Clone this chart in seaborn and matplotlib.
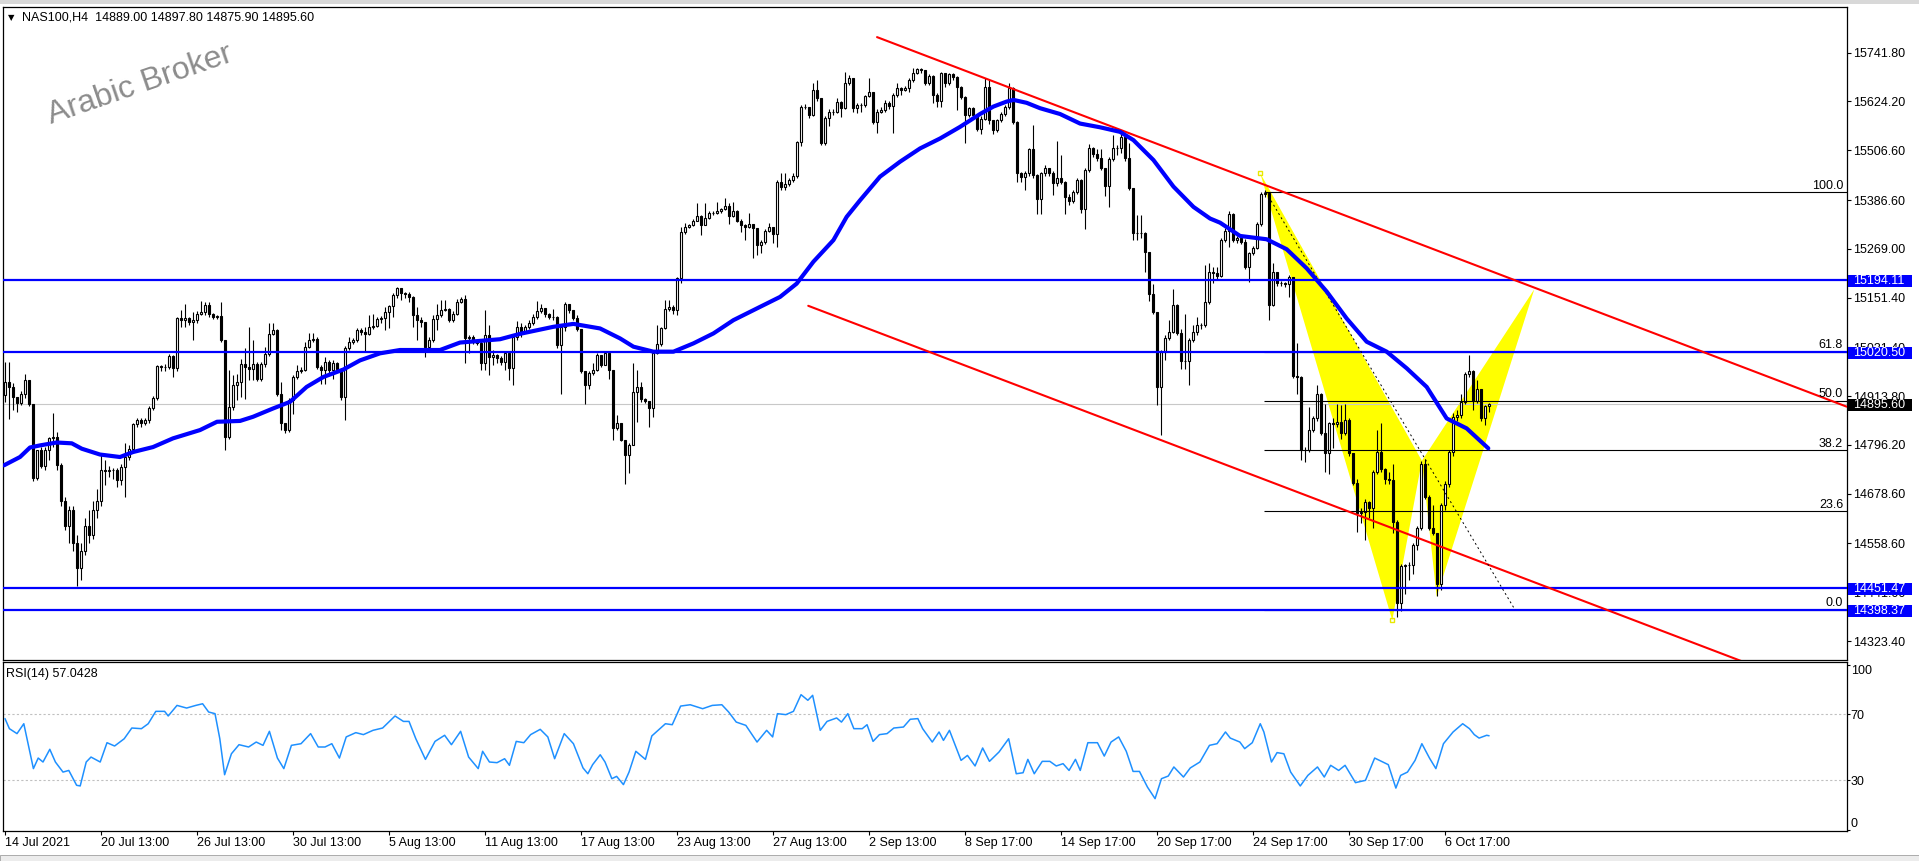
import matplotlib
matplotlib.use("Agg")
import matplotlib.pyplot as plt
from matplotlib.patches import Rectangle
import pandas as pd
import seaborn as sns

W, H = 1919, 861

# ---- NAS100 H4 candles (bar index 0..371), open of each bar = previous close
FIRST_OPEN = 14916.0
closes = [
    14948, 14935, 14912, 14898, 14920, 14952, 14896, 14716, 14783, 14745,
    14783, 14812, 14815, 14747, 14660, 14600, 14640, 14560, 14500, 14540,
    14600, 14580, 14640, 14660, 14735, 14733, 14735, 14735, 14711, 14743,
    14767, 14787, 14846, 14857, 14849, 14856, 14884, 14910, 14986, 14983,
    14985, 15010, 14982, 15101, 15098, 15101, 15093, 15097, 15113, 15117,
    15133, 15113, 15105, 15106, 15050, 14816, 14888, 14940, 14948, 14992,
    14984, 14980, 14992, 14956, 14992, 15015, 15063, 15073, 14920, 14848,
    14833, 14904, 14960, 14975, 14978, 15033, 15049, 15051, 14985, 14976,
    14996, 14978, 14993, 14980, 14912, 15029, 15045, 15050, 15073, 15069,
    15063, 15081, 15082, 15099, 15101, 15117, 15130, 15158, 15174, 15162,
    15160, 15154, 15109, 15097, 15093, 15033, 15049, 15099, 15109, 15121,
    15125, 15097, 15113, 15141, 15147, 15053, 15057, 15045, 15043, 14994,
    15061, 15009, 15013, 15005, 14997, 15017, 14981, 15057, 15081, 15069,
    15081, 15089, 15105, 15119, 15127, 15111, 15105, 15105, 15037, 15081,
    15137, 15121, 15103, 15075, 14975, 14941, 14969, 14978, 15013, 14989,
    15017, 14978, 14838, 14848, 14808, 14772, 14797, 14924, 14936, 14908,
    14903, 14886, 15017, 15039, 15077, 15125, 15129, 15121, 15198, 15310,
    15322, 15326, 15337, 15347, 15326, 15343, 15356, 15355, 15359, 15364,
    15372, 15347, 15359, 15337, 15326, 15321, 15328, 15318, 15278, 15286,
    15312, 15322, 15304, 15431, 15419, 15425, 15435, 15444, 15527, 15612,
    15611, 15591, 15653, 15632, 15525, 15585, 15600, 15598, 15624, 15608,
    15669, 15680, 15608, 15616, 15615, 15637, 15648, 15575, 15600, 15604,
    15620, 15613, 15640, 15656, 15652, 15657, 15676, 15692, 15702, 15700,
    15669, 15686, 15640, 15625, 15692, 15668, 15690, 15683, 15660, 15636,
    15591, 15608, 15591, 15557, 15583, 15660, 15579, 15555, 15579, 15595,
    15612, 15656, 15575, 15452, 15441, 15452, 15509, 15447, 15390, 15452,
    15463, 15452, 15428, 15439, 15431, 15395, 15385, 15407, 15435, 15364,
    15460, 15511, 15497, 15487, 15463, 15420, 15485, 15511, 15511, 15539,
    15487, 15415, 15306, 15307, 15308, 15262, 15161, 15117, 14936, 15021,
    15055, 15069, 15133, 15065, 14999, 14999, 15050, 15069, 15085, 15085,
    15141, 15214, 15211, 15203, 15290, 15313, 15354, 15290, 15294, 15286,
    15226, 15258, 15272, 15329, 15400, 15403, 15133, 15214, 15186, 15186,
    15184, 15202, 14962, 14960, 14784, 14784, 14833, 14860, 14920, 14826,
    14777, 14848, 14846, 14852, 14824, 14857, 14776, 14705, 14631, 14635,
    14659, 14643, 14731, 14780, 14737, 14715, 14711, 14611, 14414, 14504,
    14506, 14506, 14554, 14595, 14751, 14671, 14595, 14583, 14462, 14651,
    14703, 14780, 14864, 14868, 14900, 14967, 14975, 14903, 14930, 14860,
    14889, 14895.6,
]
highs = [
    14996, 14996, 14946, 14908, 14925, 14966, 14952, 14896, 14785, 14790,
    14790, 14816, 14873, 14828, 14752, 14670, 14650, 14650, 14580, 14560,
    14620, 14640, 14660, 14690, 14775, 14760, 14745, 14740, 14740, 14750,
    14800, 14795, 14850, 14862, 14862, 14862, 14890, 14915, 14990, 14990,
    14992, 15015, 15012, 15105, 15121, 15135, 15105, 15117, 15118, 15143,
    15140, 15140, 15115, 15110, 15141, 15050, 14976, 14965, 14968, 15004,
    15029, 15081, 15049, 14995, 14995, 15033, 15089, 15090, 15075, 14948,
    14850, 14910, 14965, 14988, 14985, 15045, 15065, 15065, 15057, 14990,
    15008, 15000, 15000, 14995, 14982, 15035, 15057, 15055, 15077, 15077,
    15081, 15109, 15113, 15105, 15108, 15129, 15133, 15162, 15178, 15170,
    15165, 15166, 15155, 15129, 15105, 15093, 15057, 15109, 15137, 15145,
    15145, 15127, 15118, 15147, 15152, 15157, 15060, 15060, 15050, 15050,
    15121, 15085, 15025, 15015, 15010, 15019, 15019, 15060, 15095, 15089,
    15085, 15097, 15113, 15144, 15137, 15125, 15115, 15125, 15107, 15085,
    15141, 15137, 15121, 15109, 15075, 14975, 14975, 14993, 15019, 15013,
    15023, 15021, 14978, 14868, 14848, 14808, 14800, 14994, 14977, 14949,
    14910, 14903, 15020, 15085, 15080, 15145, 15145, 15133, 15200, 15322,
    15332, 15330, 15340, 15379, 15350, 15379, 15360, 15360, 15383, 15368,
    15391, 15379, 15383, 15363, 15340, 15330, 15355, 15330, 15320, 15290,
    15316, 15332, 15322, 15435, 15451, 15451, 15440, 15451, 15530, 15615,
    15618, 15612, 15668, 15676, 15632, 15590, 15605, 15605, 15632, 15625,
    15696, 15688, 15680, 15620, 15620, 15640, 15680, 15648, 15605, 15610,
    15628, 15625, 15645, 15669, 15660, 15662, 15680, 15704, 15706, 15706,
    15700, 15690, 15688, 15645, 15696, 15694, 15694, 15692, 15685, 15662,
    15638, 15612, 15610, 15595, 15590, 15680, 15676, 15580, 15583, 15600,
    15616, 15668, 15660, 15578, 15455, 15457, 15512, 15567, 15450, 15455,
    15471, 15465, 15456, 15529, 15495, 15433, 15400, 15410, 15440, 15437,
    15465, 15521, 15515, 15509, 15509, 15465, 15490, 15543, 15520, 15551,
    15543, 15523, 15415, 15350, 15350, 15310, 15262, 15185, 15117, 15025,
    15060, 15097, 15171, 15135, 15075, 15113, 15055, 15085, 15105, 15090,
    15230, 15234, 15224, 15226, 15294, 15318, 15360, 15356, 15300, 15298,
    15292, 15262, 15276, 15333, 15407, 15410, 15405, 15234, 15214, 15192,
    15190, 15206, 15202, 15041, 14962, 14790, 14888, 14865, 14940, 14922,
    14895, 14852, 14860, 14895, 14892, 14896, 14860, 14776, 14715, 14645,
    14665, 14662, 14735, 14832, 14848, 14740, 14731, 14751, 14615, 14510,
    14510, 14515, 14560, 14600, 14758, 14763, 14675, 14651, 14585, 14655,
    14710, 14785, 14872, 14880, 14920, 14972, 15013, 14978, 14952, 14932,
    14892, 14897.8,
]
lows = [
    14900, 14858, 14880, 14876, 14892, 14910, 14890, 14710, 14712, 14740,
    14735, 14760, 14792, 14735, 14650, 14590, 14560, 14540, 14455, 14470,
    14530, 14560, 14570, 14620, 14650, 14700, 14720, 14715, 14695, 14700,
    14671, 14760, 14780, 14840, 14840, 14845, 14848, 14880, 14905, 14975,
    14975, 14980, 14960, 14975, 15081, 15081, 15085, 15049, 15090, 15110,
    15110, 15105, 15100, 15100, 15045, 14784, 14810, 14880, 14904, 14912,
    14908, 14952, 14952, 14950, 14950, 14985, 15010, 15060, 14915, 14832,
    14824, 14828, 14870, 14955, 14970, 14975, 15030, 15045, 14980, 14944,
    14944, 14970, 14956, 14975, 14905, 14856, 15025, 15040, 15045, 15060,
    15020, 15060, 15075, 15080, 15090, 15073, 15077, 15105, 15150, 15145,
    15150, 15141, 15081, 15049, 15081, 15009, 15030, 15045, 15073, 15105,
    15118, 15093, 15093, 15110, 15138, 14994, 15017, 15040, 15037, 14977,
    14977, 14965, 14989, 14993, 14989, 14977, 14953, 14940, 15050, 15057,
    15065, 15075, 15085, 15100, 15115, 15105, 15100, 15097, 15030, 14920,
    15070, 15115, 15098, 15070, 14970, 14896, 14932, 14965, 14975, 14985,
    14988, 14954, 14808, 14832, 14805, 14703, 14728, 14795, 14852, 14900,
    14898, 14840, 14864, 15015, 15035, 15075, 15118, 15113, 15109, 15186,
    15305, 15318, 15324, 15335, 15302, 15326, 15340, 15350, 15352, 15355,
    15362, 15330, 15345, 15333, 15310, 15290, 15320, 15246, 15255, 15258,
    15280, 15310, 15282, 15274, 15410, 15410, 15420, 15430, 15440, 15516,
    15605, 15585, 15590, 15625, 15520, 15519, 15565, 15592, 15596, 15586,
    15606, 15665, 15600, 15597, 15600, 15610, 15635, 15570, 15549, 15596,
    15600, 15605, 15549, 15635, 15640, 15650, 15648, 15672, 15690, 15692,
    15665, 15665, 15620, 15612, 15610, 15660, 15665, 15675, 15603, 15630,
    15523, 15588, 15585, 15553, 15545, 15580, 15570, 15545, 15550, 15575,
    15590, 15605, 15570, 15430, 15430, 15412, 15445, 15440, 15352, 15352,
    15445, 15445, 15398, 15420, 15425, 15352, 15375, 15380, 15400, 15355,
    15316, 15455, 15490, 15480, 15458, 15396, 15369, 15480, 15495, 15500,
    15480, 15410, 15290, 15290, 15295, 15214, 15144, 15112, 14892, 14820,
    15000, 15050, 15065, 15060, 14980, 14980, 14940, 15045, 15060, 15075,
    15080, 15135, 15187, 15195, 15200, 15285, 15274, 15285, 15284, 15280,
    15220, 15190, 15255, 15268, 15325, 15395, 15097, 15130, 15180, 15180,
    15178, 15153, 14958, 14920, 14760, 14755, 14780, 14828, 14855, 14820,
    14731, 14727, 14788, 14840, 14810, 14820, 14770, 14700, 14587, 14607,
    14567, 14620, 14595, 14725, 14730, 14703, 14703, 14583, 14381, 14395,
    14437, 14470, 14486, 14542, 14590, 14665, 14590, 14578, 14432, 14446,
    14640, 14695, 14770, 14855, 14860, 14895, 14960, 14880, 14898, 14855,
    14844, 14875.9,
]

# ---- moving average (thick blue), read at sample bars
ma_bars = [-0.25, 3.75, 6.25, 8.75, 12.9, 16.7, 19.2, 23.75, 28.75, 32,
           37, 42, 48.75, 53, 58.75, 62, 67, 71.25, 75.4, 79.6,
           84.6, 88.75, 93.75, 98.75, 108.75, 113.75, 123.75, 128.75, 137.1, 142.1,
           148.75, 153.75, 157.1, 162.1, 167.1, 172.1, 177.1, 182.1, 188.75, 193.75,
           197.9, 202.1, 207.1, 210.4, 213.75, 218.75, 223.75, 228.75, 233.75, 238.75,
           243.75, 247.1, 250.4, 252.1, 255.4, 258.75, 263.75, 268.75, 273.75, 278.75,
           282.1, 287.1, 292.1, 297.1, 301.25, 303.75, 308.75, 315.4, 320.4, 325.4,
           330.4, 335.4, 340.4, 345.4, 350.4, 355.4, 360.4, 365.4, 370.8]
ma_vals = [14747, 14767, 14790, 14795, 14802, 14800, 14787, 14773, 14767, 14779,
           14791, 14812, 14832, 14852, 14854, 14864, 14884, 14900, 14936, 14960,
           14978, 15000, 15017, 15025, 15025, 15043, 15051, 15064, 15081, 15088,
           15077, 15053, 15033, 15021, 15021, 15041, 15065, 15097, 15129, 15153,
           15185, 15238, 15290, 15346, 15386, 15443, 15479, 15511, 15535, 15563,
           15594, 15612, 15624, 15628, 15621, 15608, 15594, 15571, 15562, 15551,
           15531, 15483, 15419, 15370, 15342, 15332, 15300, 15292, 15268, 15222,
           15166, 15101, 15045, 15021, 14981, 14936, 14860, 14836, 14788]

# ---- RSI(14)
rsi_bars = [0, 1.1, 3, 4.7, 7.1, 8.3, 9.5, 11.2, 12.6, 14.5,
            15.95, 17.9, 18.8, 20.3, 21.5, 23.8, 25.5, 27.4, 29.8, 31.7,
            34.1, 35.8, 37.7, 39.9, 40.8, 43, 45.4, 47.7, 49.4, 50.9,
            52.5, 53.7, 54.9, 56.6, 58.5, 60.9, 62.8, 64.5, 66.1, 68.1,
            69.7, 71.6, 74, 76.4, 78.3, 80, 81.7, 83.6, 85.3, 87.7,
            89.6, 92, 94.4, 97.5, 99.6, 101, 102.7, 105.1, 107.5, 109.9,
            111.6, 113.9, 115.9, 118.3, 119.4, 121.1, 123, 124.9, 126.1, 127.8,
            129.7, 131.4, 133.8, 135.7, 137.4, 139.8, 142.1, 144.5, 145.7, 146.9,
            148.8, 150, 151.7, 152.9, 154.6, 156, 157.7, 160.1, 161.7, 163.7,
            165.1, 166.8, 168.9, 171.3, 174.4, 176.8, 179.2, 180.9, 182.8, 185.2,
            188, 190.4, 191.9, 193.1, 195.2, 197.1, 199, 200.7, 201.9, 203.8,
            205.5, 207.9, 209.1, 210.7, 212.2, 214.3, 215.5, 217, 218.6, 220.5,
            222.2, 224.6, 226.3, 228.2, 229.4, 231.8, 233.5, 234.6, 236.1, 239,
            240.6, 242.5, 244.4, 246.1, 248.5, 250.9, 252.8, 254.5, 255.7, 257.3,
            259.3, 261.2, 262.8, 264.5, 266, 267.6, 268.8, 270.7, 273.1, 274.8,
            276.5, 278.4, 280.3, 282, 283.6, 285.6, 287.5, 289.1, 290.8, 292.2,
            294.6, 296.3, 298.7, 301.1, 303, 305.1, 306.3, 308.7, 309.9, 311.8,
            313.8, 314.7, 316.6, 318, 319.7, 321.4, 323.8, 325.7, 328.1, 329.8,
            331.4, 333.4, 335, 337.6, 340.1, 342.4, 344.1, 345.8, 347.7, 348.9,
            350.6, 352.5, 354.2, 356.1, 357.7, 359.6, 362, 364.4, 366.1, 367.3,
            368.5, 370.4, 371]
rsi_vals = [67.4, 61.3, 58.3, 64.3, 37.1, 43.5, 41.1, 48.8, 41.1, 35,
            36, 27, 26.6, 41.1, 44.1, 41.1, 52.8, 50.8, 55.2, 61.7,
            61.3, 64.3, 71.8, 71.8, 69, 75.4, 73.8, 75.4, 76.4, 71.4,
            70.4, 55.2, 33.4, 46.1, 51.6, 50.2, 53.2, 51.2, 59.7, 43.5,
            37.1, 51.2, 52.2, 58.3, 50.2, 50.2, 52.2, 43.5, 56.3, 58.9,
            57.7, 60.3, 61.7, 69, 65.7, 65.7, 55.2, 42.7, 53.6, 57.3,
            51.6, 59.7, 44.1, 37.1, 47.6, 41.1, 40.7, 43.1, 39.1, 53.6,
            52.8, 57.7, 60.9, 56.3, 43.1, 58.3, 52.2, 37.5, 34, 39.5,
            45.5, 41.1, 31, 32.4, 27.4, 35, 47.6, 42.7, 56.9, 61.3,
            64.3, 63.7, 75, 75.8, 73.4, 75.4, 75.8, 71.4, 65.3, 63.3,
            53.2, 60.3, 56.3, 70.4, 69.8, 71.8, 81.9, 78.5, 81.5, 60.3,
            65.7, 67.8, 65.3, 70.4, 61.3, 61.3, 63.7, 53.6, 57.7, 58.3,
            61.7, 62.3, 67, 67.4, 61.3, 53.2, 59.3, 54.2, 60.3, 42.1,
            45.1, 38.7, 49.6, 41.5, 47.2, 55.2, 34, 34.6, 42.7, 34,
            41.5, 41.5, 38.7, 40.1, 36, 42.7, 36, 52.8, 52.8, 44.7,
            53.2, 56.3, 47.6, 35.4, 35.4, 25.9, 18.9, 31, 32.6, 38.1,
            32, 37.5, 41.1, 51.2, 52.2, 59.3, 55.6, 53.2, 49.2, 52.8,
            64.3, 59.3, 41.1, 46.8, 46.1, 35, 26.6, 33, 38.1, 32,
            39.1, 36, 39.1, 28.6, 30, 43.5, 41.5, 39.5, 25.3, 33,
            35, 42.1, 52.2, 43.5, 37.1, 52.2, 59.3, 64.3, 61.3, 57.7,
            55.6, 57.3, 57.0]

# ---- chart objects
hlines_blue = [15194.11, 15020.50, 14451.47, 14398.37]
last_price = 14895.60
fib_levels = [100.0, 61.8, 50.0, 38.2, 23.6, 0.0]
fib_prices = [15405.1, 15020.5, 14901.7, 14782.9, 14635.9, 14398.37]
fib_start = 314.75
upper_red = ([218, 460.4], [15779.4, 14888.4])
lower_red = ([200.8, 460.4], [15131.6, 14178.3])
fib_diag = ([315.25, 377.5], [15405.1, 14398.37])
pattern_bars = [313.8, 346.8, 354.2, 357.9, 382.3]
pattern_prices = [15451.0, 14373.3, 14758.1, 14430.2, 15171.4]

price_ticks = [15741.80, 15624.20, 15506.60, 15386.60, 15269.00, 15151.40, 15031.40,
               14913.80, 14796.20, 14678.60, 14558.60, 14441.00, 14323.40]
tick_bars = list(range(0, 361, 24))
tick_labels = ["14 Jul 2021", "20 Jul 13:00", "26 Jul 13:00", "30 Jul 13:00", "5 Aug 13:00",
               "11 Aug 13:00", "17 Aug 13:00", "23 Aug 13:00", "27 Aug 13:00", "2 Sep 13:00",
               "8 Sep 17:00", "14 Sep 17:00", "20 Sep 17:00", "24 Sep 17:00", "30 Sep 17:00",
               "6 Oct 17:00"]

sns.set_theme(style="white")
plt.rcParams["font.family"] = ["Liberation Sans", "DejaVu Sans"]

fig = plt.figure(figsize=(W / 100, H / 100), dpi=100)
fig.patch.set_facecolor("white")


def px_axes(x0, y0, x1, y1):
    return fig.add_axes([x0 / W, 1 - y1 / H, (x1 - x0) / W, (y1 - y0) / H])


ax = px_axes(3.3, 7.3, 1846.7, 660)
rax = px_axes(3.3, 662, 1846.7, 831)
XLIM = (-0.425, 460.4)

for a in (ax, rax):
    a.set_facecolor("white")
    a.set_xlim(*XLIM)
    for s in a.spines.values():
        s.set_color("black")
        s.set_linewidth(0.9)

# ---- price panel
ax.set_ylim(14277.6, 15851.3)

px, py = pattern_bars, pattern_prices
ax.fill(px[0:3], py[0:3], color="#ffff00", lw=0, zorder=1)
ax.fill(px[2:5], py[2:5], color="#ffff00", lw=0, zorder=1)
ax.plot([px[0], px[1]], [py[0], py[1]], "s", mfc="none", mec="#e8e800", ms=3.5, mew=1, zorder=1.2)

ax.axhline(last_price, color="#c8c8c8", lw=0.8, zorder=1.5)

df = pd.DataFrame({"bar": range(len(closes)), "close": closes, "high": highs, "low": lows})
df["open"] = [FIRST_OPEN] + closes[:-1]
df["lo"] = df[["open", "close"]].min(axis=1)
df["h"] = (df["close"] - df["open"]).abs()
up = df["close"] >= df["open"]
ax.vlines(df["bar"], df["low"], df["high"], color="black", lw=0.8, zorder=3)
ax.bar(df["bar"][up], df["h"][up], bottom=df["lo"][up], width=0.55,
       color="white", edgecolor="black", linewidth=0.8, zorder=3.5)
ax.bar(df["bar"][~up], df["h"][~up], bottom=df["lo"][~up], width=0.55,
       color="black", edgecolor="black", linewidth=0.8, zorder=3.5)

ax.hlines(fib_prices, fib_start, XLIM[1], color="black", lw=0.8, zorder=4)
for lvl, p in zip(fib_levels, fib_prices):
    ax.text(459.5, p + 2, f"{lvl:.1f}", ha="right", va="bottom", fontsize=9, color="black", zorder=6)

ax.hlines(hlines_blue, XLIM[0], XLIM[1], color="#0000ff", lw=1.6, zorder=4.5)
ax.plot(*upper_red, color="#ff0000", lw=1.5, zorder=4.6)
ax.plot(*lower_red, color="#ff0000", lw=1.5, zorder=4.6)
ax.plot(*fib_diag, color="black", lw=0.7, ls=(0, (2, 3)), zorder=4.6)

sns.lineplot(x=ma_bars, y=ma_vals, ax=ax, color="#0000ff", lw=3.0, sort=False,
             estimator=None, zorder=5)

ax.set_xticks([])
ax.yaxis.tick_right()
ax.set_yticks(price_ticks)
ax.set_yticklabels([f"{v:.2f}" for v in price_ticks])
ax.tick_params(axis="y", right=True, left=False, direction="out", length=3, width=0.8,
               pad=1.5, labelsize=9, colors="black")
ax.set_xlabel("")
ax.set_ylabel("")
ax.set_ylim(14277.6, 15851.3)
ax.set_xlim(*XLIM)

box_x = 1 + 1.0 / 1843.4
box_w = 64.0 / 1843.4
text_x = 1 + 6.0 / 1843.4
for p in hlines_blue + [last_price]:
    fc = "black" if p == last_price else "#0000ff"
    ax.add_patch(Rectangle((box_x, p - 18), box_w, 30, transform=ax.get_yaxis_transform(),
                           fc=fc, ec="none", clip_on=False, zorder=9))
    ax.text(text_x, p - 3, f"{p:.2f}", transform=ax.get_yaxis_transform(), ha="left",
            va="center", fontsize=9, color="white", clip_on=False, zorder=10)

# ---- RSI panel
rax.set_ylim(-0.7, 101.7)
for lvl in (70, 30):
    rax.axhline(lvl, color="#c0c0c0", lw=0.8, ls=(0, (2, 2)), zorder=1)
sns.lineplot(x=rsi_bars, y=rsi_vals, ax=rax, color="#1e90ff", lw=1.1, sort=False,
             estimator=None, zorder=3)
rax.yaxis.tick_right()
rax.set_yticks([0, 30, 70, 100])
rax.set_yticklabels(["0", "30", "70", "100"])
rax.tick_params(axis="y", right=True, left=False, direction="out", length=2, width=0.8,
                pad=0.8, labelsize=9, colors="black")
ylabs = rax.get_yticklabels()
ylabs[0].set_va("bottom")
ylabs[3].set_va("top")
rax.set_xticks(tick_bars)
rax.set_xticklabels(tick_labels)
for lab in rax.get_xticklabels():
    lab.set_ha("left")
rax.tick_params(axis="x", bottom=True, direction="out", length=3, width=0.8, pad=1.5,
                labelsize=9, colors="black")
rax.set_xlabel("")
rax.set_ylabel("")
rax.set_xlim(*XLIM)
rax.set_ylim(-0.7, 101.7)

# ---- texts
fig.text(11.7 / W, 1 - 17.5 / H, "\u25bc", fontsize=6, family="DejaVu Sans",
         ha="center", va="center", color="black")
fig.text(22 / W, 1 - 17 / H, "NAS100,H4  14889.00 14897.80 14875.90 14895.60",
         fontsize=9, ha="left", va="center", color="black")
fig.text(6 / W, 1 - 674.5 / H, "RSI(14) 57.0428", fontsize=9, ha="left", va="center",
         color="black")
fig.text(140 / W, 1 - 85 / H, "Arabic Broker", fontsize=23, rotation=19, ha="center",
         va="center", color="#8c8c8c")

# window chrome
fig.patches.append(Rectangle((0, 1 - 4 / H), 1, 4 / H, transform=fig.transFigure,
                             fc="#d8d8d8", ec="none"))
fig.patches.append(Rectangle((0, 0), 1, 6 / H, transform=fig.transFigure,
                             fc="#ececec", ec="#a0a0a0", lw=0.6))

fig.savefig("out.png", dpi=100, facecolor="white")
